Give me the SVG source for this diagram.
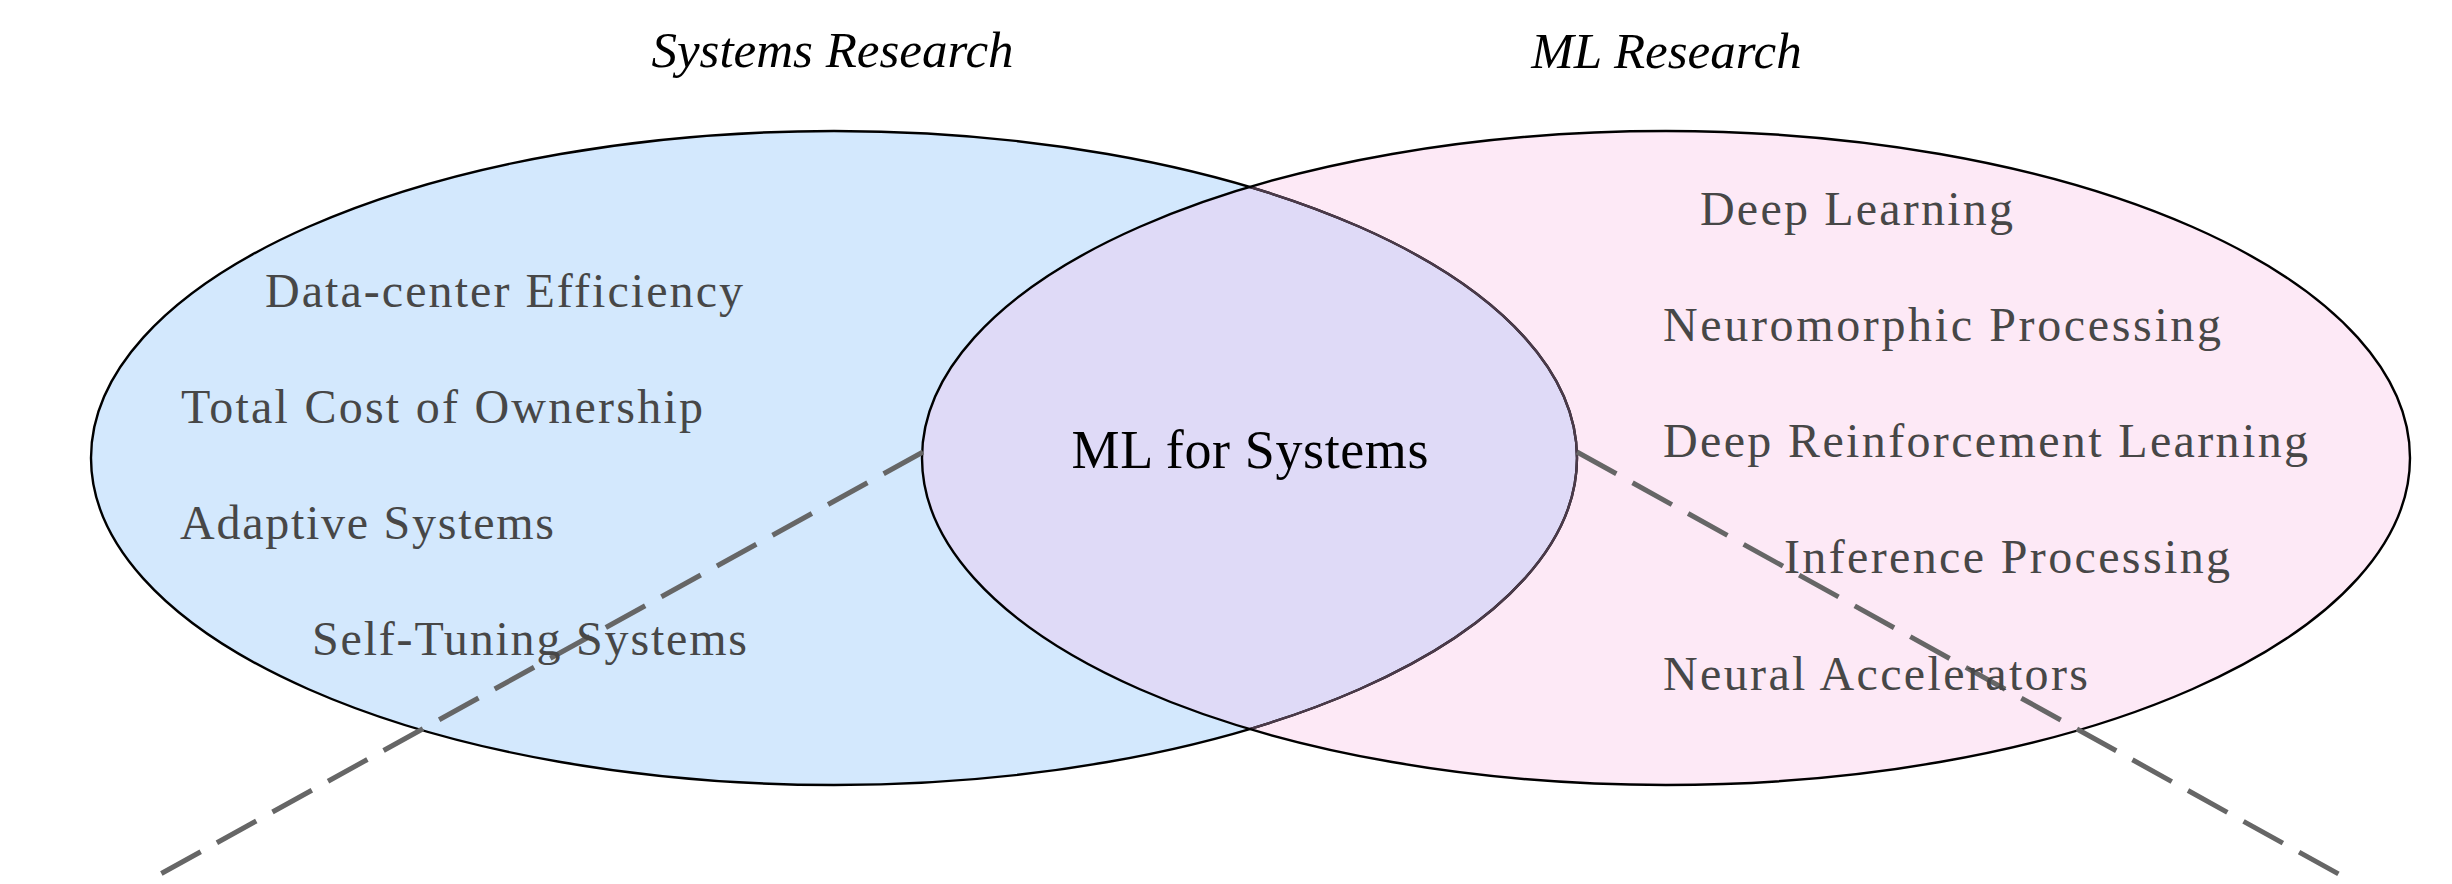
<svg xmlns="http://www.w3.org/2000/svg" width="2452" height="884" viewBox="0 0 2452 884">
  <style>
    .title { font-family: "Liberation Serif", "Times New Roman", serif; font-style: italic; font-size: 51px; fill: #000; text-anchor: middle; }
    .item { font-family: "Liberation Serif", "Times New Roman", serif; font-size: 48px; fill: #474747; }
    .center { font-family: "Liberation Serif", "Times New Roman", serif; font-size: 54px; fill: #000; text-anchor: middle; }
    .edge { fill: none; stroke: #000; stroke-width: 2.4; }
    .dash { fill: none; stroke: #666666; stroke-width: 5; stroke-dasharray: 45 18.5; }
  </style>
  <defs>
    <clipPath id="clipLeft">
      <ellipse cx="834" cy="458" rx="743" ry="327"/>
    </clipPath>
    <clipPath id="clipRight">
      <ellipse cx="1666" cy="458" rx="744" ry="327"/>
    </clipPath>
  </defs>
  <rect x="0" y="0" width="2452" height="884" fill="#ffffff"/>

  <g id="systems-research">
    <ellipse cx="834" cy="458" rx="743" ry="327" fill="#d3e8fd"/>
  </g>
  <g id="ml-research">
    <ellipse cx="1666" cy="458" rx="744" ry="327" fill="#fde9f6"/>
  </g>
  <g id="ml-for-systems">
    <ellipse cx="1666" cy="458" rx="744" ry="327" fill="#dfdaf7" clip-path="url(#clipLeft)"/>
    <ellipse class="edge" cx="834" cy="458" rx="743" ry="327"/>
    <ellipse cx="834" cy="458" rx="743" ry="327" fill="none" stroke="#4b3a4a" stroke-width="2.4" clip-path="url(#clipRight)"/>
    <ellipse class="edge" cx="1666" cy="458" rx="744" ry="327"/>
    <text class="center" x="1250" y="468" textLength="357">ML for Systems</text>
  </g>

  <g id="connectors">
    <path class="dash" d="M 923 452 L 155 877"/>
    <path class="dash" d="M 1577 452 L 2344 877"/>
  </g>

  <g id="systems-labels">
    <text class="title" x="832.5" y="67">Systems Research</text>
    <text class="item" x="265" y="307" textLength="478">Data-center Efficiency</text>
    <text class="item" x="181" y="423" textLength="522">Total Cost of Ownership</text>
    <text class="item" x="180" y="539" textLength="374">Adaptive Systems</text>
    <text class="item" x="312" y="655" textLength="435">Self-Tuning Systems</text>
  </g>

  <g id="ml-labels">
    <text class="title" x="1666.5" y="68">ML Research</text>
    <text class="item" x="1700" y="225" textLength="313">Deep Learning</text>
    <text class="item" x="1663" y="341" textLength="558">Neuromorphic Processing</text>
    <text class="item" x="1663" y="457" textLength="645">Deep Reinforcement Learning</text>
    <text class="item" x="1784" y="573" textLength="446">Inference Processing</text>
    <text class="item" x="1663" y="690" textLength="425">Neural Accelerators</text>
  </g>
</svg>
